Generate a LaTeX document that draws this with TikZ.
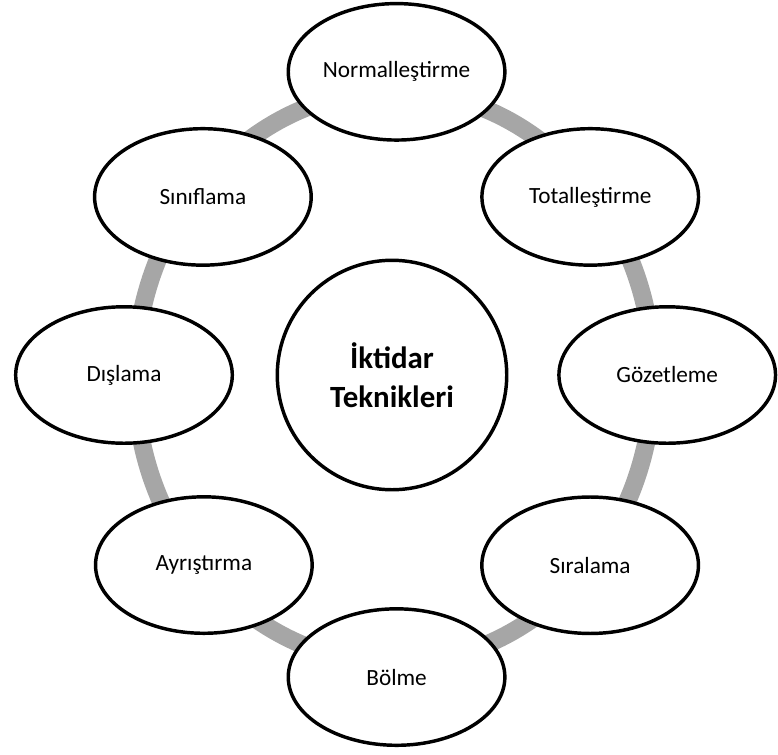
\documentclass[tikz,border=0pt]{standalone}
\usepackage{fontspec}
\setmainfont{Carlito}
\usetikzlibrary{calc,shapes.geometric}
\definecolor{halkagri}{RGB}{166,166,166}

\tikzset{
	adim/.style={ellipse, draw, line width=2.6pt, fill=white, minimum width=5.73cm, minimum height=3.61cm, inner sep=0pt, font=\fontsize{17.5}{20}\selectfont},
	merkez/.style={circle, draw, line width=2.6pt, fill=white, minimum size=6.07cm, inner sep=0pt, align=center, font=\bfseries\fontsize{23.25}{29.25}\selectfont},
	halka/.style={draw=halkagri, line width=13.5pt}
}

\begin{document}
\begin{tikzpicture}
		\useasboundingbox (-10.49,-10.03) rectangle (10.09,9.92);
		\path 
		(0:0) coordinate (O)
		(90:8.02) coordinate (N)
		(42.6:6.96) coordinate (T)
		(0:7.16) coordinate (G)
		(-44.5:7.18) coordinate (S)
		(-90:7.99) coordinate (B)
		(224.6:7.16) coordinate (A)
		(180:7.21) coordinate (D)
		(137.4:6.96) coordinate (K)
		;
		\draw[halka] ($(O)+(-0.066,-0.053)$) ellipse (6.85 and 7.57);
		\node[merkez] (iktidar) at ($(O)+(180:0.12)$) {İktidar\\Teknikleri};
		\node[adim] (normal) at (N) {Normalleştirme};
		\node[adim] (total) at (T) {Totalleştirme};
		\node[adim] (gozet) at (G) {Gözetleme};
		\node[adim] (sira) at (S) {Sıralama};
		\node[adim] (bolme) at (B) {Bölme};
		\node[adim] (ayris) at (A) {Ayrıştırma};
		\node[adim] (disla) at (D) {Dışlama};
		\node[adim] (sinif) at (K) {Sınıflama};
	\end{tikzpicture}
\end{document}
